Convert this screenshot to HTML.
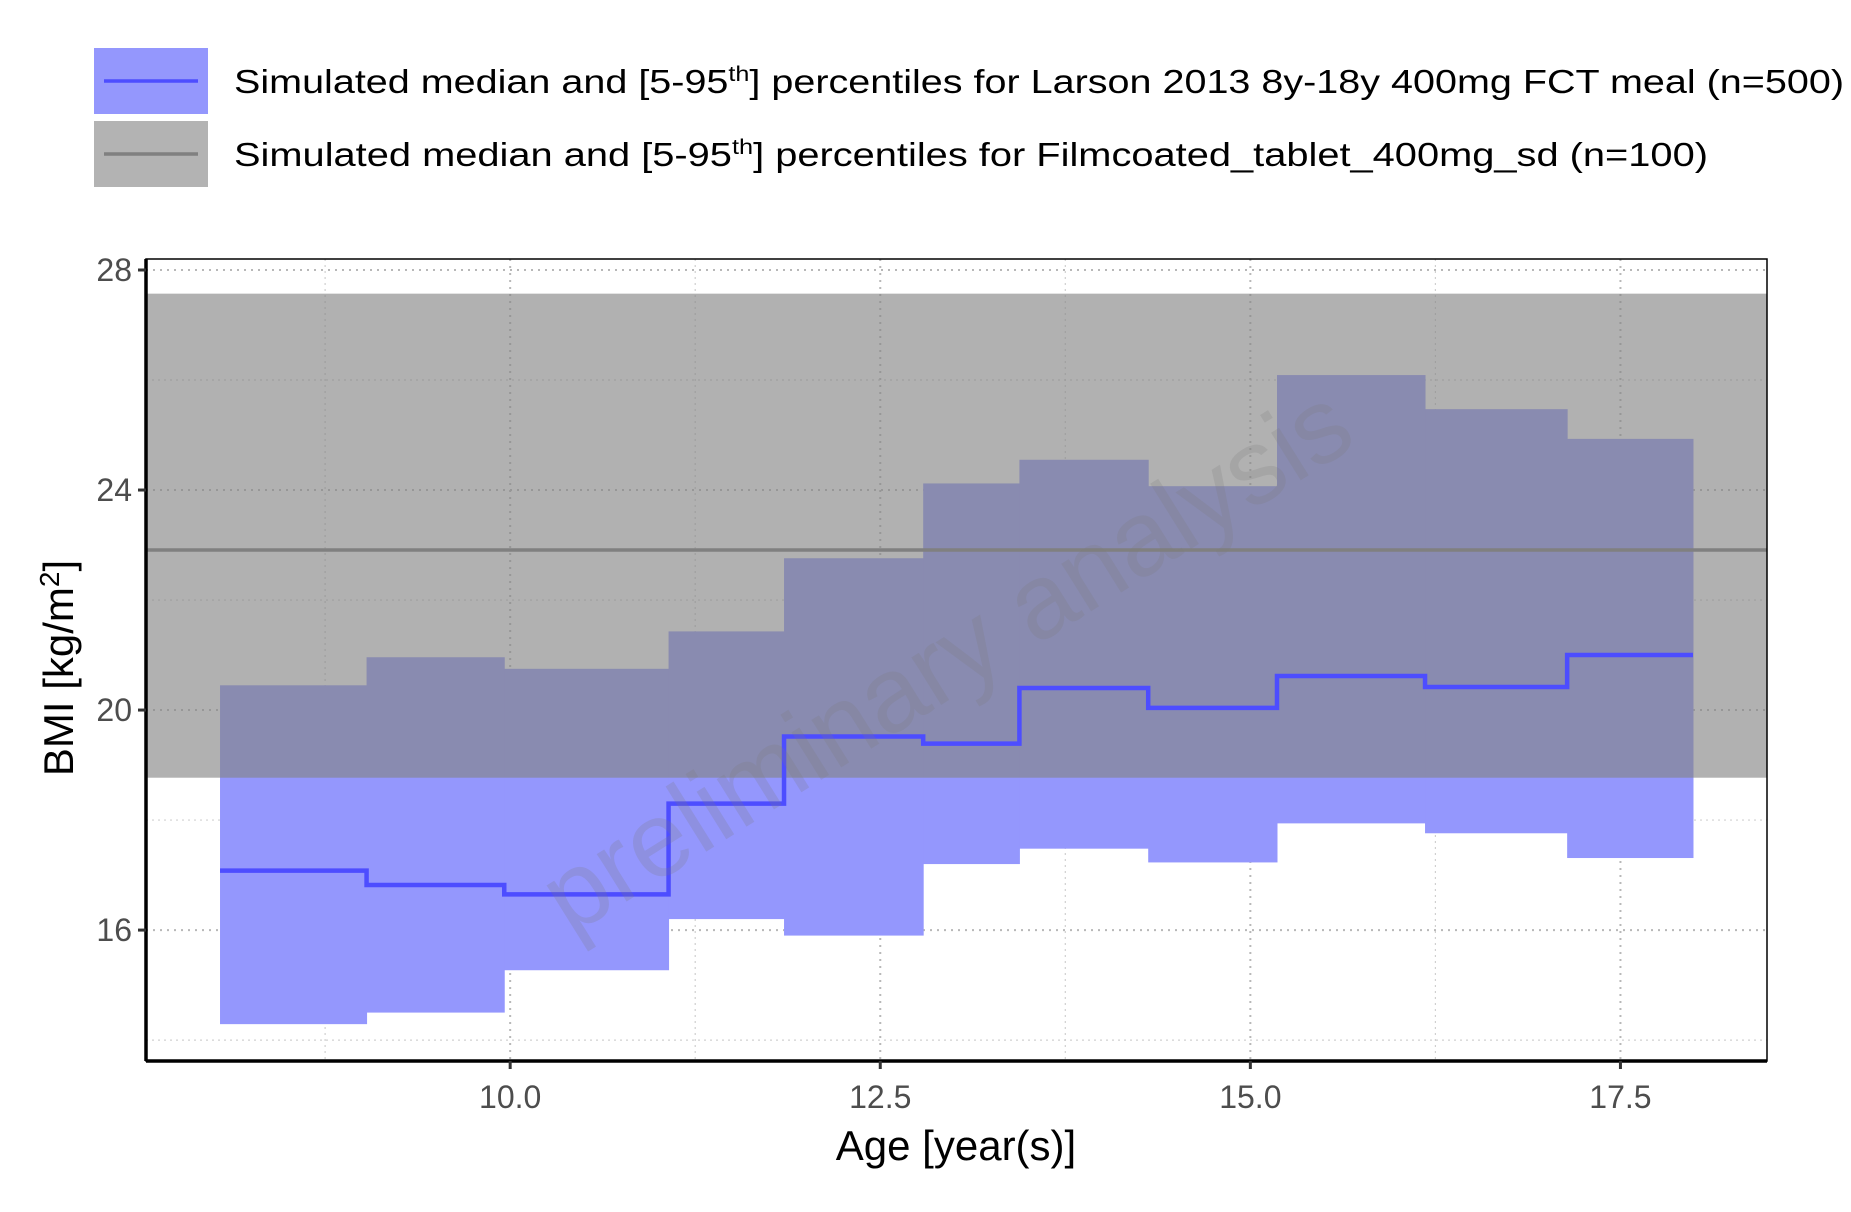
<!DOCTYPE html>
<html><head><meta charset="utf-8"><style>
html,body{margin:0;padding:0;background:#fff;}
svg{display:block;font-family:"Liberation Sans","DejaVu Sans",sans-serif;}
</style></head><body>
<svg id="chart" width="1851" height="1212" viewBox="0 0 1851 1212" xmlns="http://www.w3.org/2000/svg">
<g>
  <g>
    <rect x="94" y="48" width="114" height="66" fill="#9497fd"/>
    <line x1="104" y1="81" x2="198" y2="81" stroke="#4d4dff" stroke-width="3.5"/>
    <text x="234" y="93" font-size="33" fill="#000" textLength="1610" lengthAdjust="spacingAndGlyphs">Simulated median and [5-95<tspan font-size="21" dy="-12">th</tspan><tspan dy="12">] percentiles for Larson 2013 8y-18y 400mg FCT meal (n=500)</tspan></text>
  </g>
  <g>
    <rect x="94" y="121" width="114" height="66" fill="#b3b3b3"/>
    <line x1="104" y1="154" x2="198" y2="154" stroke="#808080" stroke-width="3.5"/>
    <text x="234" y="166" font-size="33" fill="#000" textLength="1474" lengthAdjust="spacingAndGlyphs">Simulated median and [5-95<tspan font-size="21" dy="-12">th</tspan><tspan dy="12">] percentiles for Filmcoated_tablet_400mg_sd (n=100)</tspan></text>
  </g>
</g>
<g id="grid"></g>
<g id="marks"></g>
<g id="axes"></g>
<text x="0" y="0" font-size="106" fill="#7a7a7a" fill-opacity="0.22" text-anchor="middle" transform="translate(965,690) rotate(-32)">preliminary analysis</text>
<text x="956" y="1160" font-size="42" text-anchor="middle" fill="#000">Age [year(s)]</text>
<text x="0" y="0" font-size="42" text-anchor="middle" fill="#000" transform="translate(73,668) rotate(-90)">BMI [kg/m<tspan font-size="28" dy="-14">2</tspan><tspan dy="14">]</tspan></text>
</svg>
<script>
const edges = [8.04, 9.03, 9.96, 11.07, 11.85, 12.79, 13.44, 14.31, 15.18, 16.18, 17.14, 17.99];
const upper = [20.45, 20.96, 20.75, 21.43, 22.76, 24.12, 24.55, 24.07, 26.09, 25.47, 24.93];
const lower = [14.29, 14.50, 15.27, 16.20, 15.90, 17.20, 17.48, 17.23, 17.94, 17.76, 17.31];
const median = [17.08, 16.82, 16.65, 18.30, 19.52, 19.39, 20.40, 20.04, 20.62, 20.42, 21.00];
const refBand = [18.77, 27.57];
const refMedian = [22.91];
const xTicks = [10.0, 12.5, 15.0, 17.5];
const xTickLabels = ["10.0", "12.5", "15.0", "17.5"];
const yTicks = [16, 20, 24, 28];
const yTickLabels = ["16", "20", "24", "28"];

const X0=146, X1=1767, Y0=259, Y1=1061;
const XMIN=7.54, XMAX=18.49, YMIN=13.62, YMAX=28.2;
const sx = v => X0 + (v-XMIN)/(XMAX-XMIN)*(X1-X0);
const sy = v => Y1 - (v-YMIN)/(YMAX-YMIN)*(Y1-Y0);
const NS="http://www.w3.org/2000/svg";
function mk(tag, attrs, parent){const e=document.createElementNS(NS,tag);for(const k in attrs)e.setAttribute(k,attrs[k]);parent.appendChild(e);return e;}
const grid=document.getElementById('grid'), marks=document.getElementById('marks'), axes=document.getElementById('axes');

const xMinor=[]; for(let i=0;i<xTicks.length;i++){xMinor.push(xTicks[i]-1.25);} xMinor.push(xTicks[xTicks.length-1]+1.25);
const yMinor=[]; for(let i=0;i<yTicks.length;i++){yMinor.push(yTicks[i]-2);}
xMinor.forEach(v=>{ if(v<XMIN||v>XMAX) return; const l=mk('line',{x1:sx(v),x2:sx(v),y1:Y0,y2:Y1,stroke:'#d0d0d0','stroke-width':1.2,'stroke-dasharray':'2,4'},grid);

});
yMinor.forEach(v=>{ if(v<YMIN) return; const l=mk('line',{x1:X0,x2:X1,y1:sy(v),y2:sy(v),stroke:'#d0d0d0','stroke-width':1.2,'stroke-dasharray':'2,4'},grid);

});
xTicks.forEach(v=>{const l=mk('line',{x1:sx(v),x2:sx(v),y1:Y0,y2:Y1,stroke:'#b8b8b8','stroke-width':2,'stroke-dasharray':'2,5'},grid);

});
yTicks.forEach(v=>{const l=mk('line',{x1:X0,x2:X1,y1:sy(v),y2:sy(v),stroke:'#b8b8b8','stroke-width':2,'stroke-dasharray':'2,5'},grid);

});

for(let i=0;i<upper.length;i++){
  const r=mk('rect',{x:sx(edges[i]),y:sy(upper[i]),width:sx(edges[i+1])-sx(edges[i])+0.5,height:sy(lower[i])-sy(upper[i]),fill:'#9497fd'},marks);
  
  
}
const gb=mk('rect',{x:X0,y:sy(refBand[1]),width:X1-X0,height:sy(refBand[0])-sy(refBand[1]),fill:'#848484','fill-opacity':0.63},marks);


const gl=mk('line',{x1:X0,x2:X1,y1:sy(refMedian[0]),y2:sy(refMedian[0]),stroke:'#808080','stroke-width':3.5},marks);


let d='';
for(let i=0;i<median.length;i++){
  d += (i===0?'M':'L')+sx(edges[i])+','+sy(median[i])+' L'+sx(edges[i+1])+','+sy(median[i])+' ';
}
const ml=mk('path',{d:d,fill:'none',stroke:'#4d4dff','stroke-width':4.5},marks);



const frame=mk('rect',{x:X0,y:Y0,width:X1-X0,height:Y1-Y0,fill:'none',stroke:'#000','stroke-width':1.5},axes);


const xa=mk('line',{x1:X0,x2:X1,y1:Y1,y2:Y1,stroke:'#000','stroke-width':3.5},axes);


const ya=mk('line',{x1:X0,x2:X0,y1:Y0,y2:Y1,stroke:'#000','stroke-width':3.5},axes);


xTicks.forEach((v,i)=>{
  const t=mk('line',{x1:sx(v),x2:sx(v),y1:Y1,y2:Y1+8,stroke:'#333','stroke-width':3},axes);
  
  
  const l=mk('text',{x:sx(v),y:1108,'font-size':32,'text-anchor':'middle',fill:'#4d4d4d'},axes);
  l.textContent=xTickLabels[i];
  
  
});
yTicks.forEach((v,i)=>{
  const t=mk('line',{x1:X0-8,x2:X0,y1:sy(v),y2:sy(v),stroke:'#333','stroke-width':3},axes);
  
  
  const l=mk('text',{x:X0-14,y:sy(v)+11,'font-size':32,'text-anchor':'end',fill:'#4d4d4d'},axes);
  l.textContent=yTickLabels[i];
  
  
});
</script>
</body></html>
